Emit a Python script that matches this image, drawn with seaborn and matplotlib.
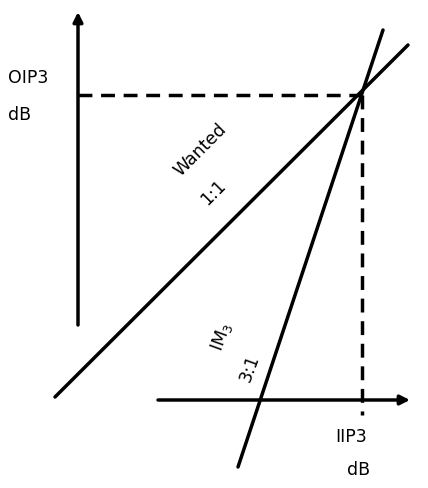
import matplotlib
matplotlib.use("Agg")
import matplotlib.pyplot as plt
import seaborn as sns

sns.set_theme(style="white")
plt.rcParams['font.family'] = ['DejaVu Sans']
plt.rcParams['text.color'] = 'black'

# schematic geometry (in image-like units, y downwards)
wanted_x = [55, 408]; wanted_y = [397, 45]
im3_x = [238, 383]; im3_y = [467, 30]
dash_h_x = [78, 362]; dash_h_y = [95, 95]
dash_v_x = [362, 362]; dash_v_y = [95, 415]
yaxis_x = [78, 78]; yaxis_y = [325, 12]
xaxis_x = [158, 410]; xaxis_y = [400, 400]

fig = plt.figure(figsize=(4.28, 4.88), dpi=100)
ax = fig.add_axes([0, 0, 1, 1])
ax.set_xlim(0, 428); ax.set_ylim(488, 0)
ax.axis('off')

sns.lineplot(x=wanted_x, y=wanted_y, ax=ax, color='black', lw=2.5, sort=False)
sns.lineplot(x=im3_x, y=im3_y, ax=ax, color='black', lw=2.5, sort=False)
ax.plot(dash_h_x, dash_h_y, color='black', lw=2.5, ls=(0, (4, 2.5)))
ax.plot(dash_v_x, dash_v_y, color='black', lw=2.5, ls=(0, (4, 2.5)))
for xs, ys in [(yaxis_x, yaxis_y), (xaxis_x, xaxis_y)]:
    ax.annotate('', xy=(xs[1], ys[1]), xytext=(xs[0], ys[0]),
                arrowprops=dict(arrowstyle='-|>', color='black', lw=2.5,
                                mutation_scale=14, shrinkA=0, shrinkB=0))

fs = 12.5
kw = dict(fontsize=fs, color='black')
ax.text(8, 78, 'OIP3', va='center', **kw)
ax.text(8, 115, 'dB', va='center', **kw)
ax.text(335, 437, 'IIP3', va='center', **kw)
ax.text(347, 470, 'dB', va='center', **kw)
ax.text(200, 150, 'Wanted', rotation=45, ha='center', va='center', **kw)
ax.text(213, 193, '1:1', rotation=45, ha='center', va='center', **kw)
ax.text(222, 337, 'IM$_3$', rotation=70, ha='center', va='center', **kw)
ax.text(250, 368, '3:1', rotation=70, ha='center', va='center', **kw)

fig.savefig('out.png', dpi=100, facecolor='white')
